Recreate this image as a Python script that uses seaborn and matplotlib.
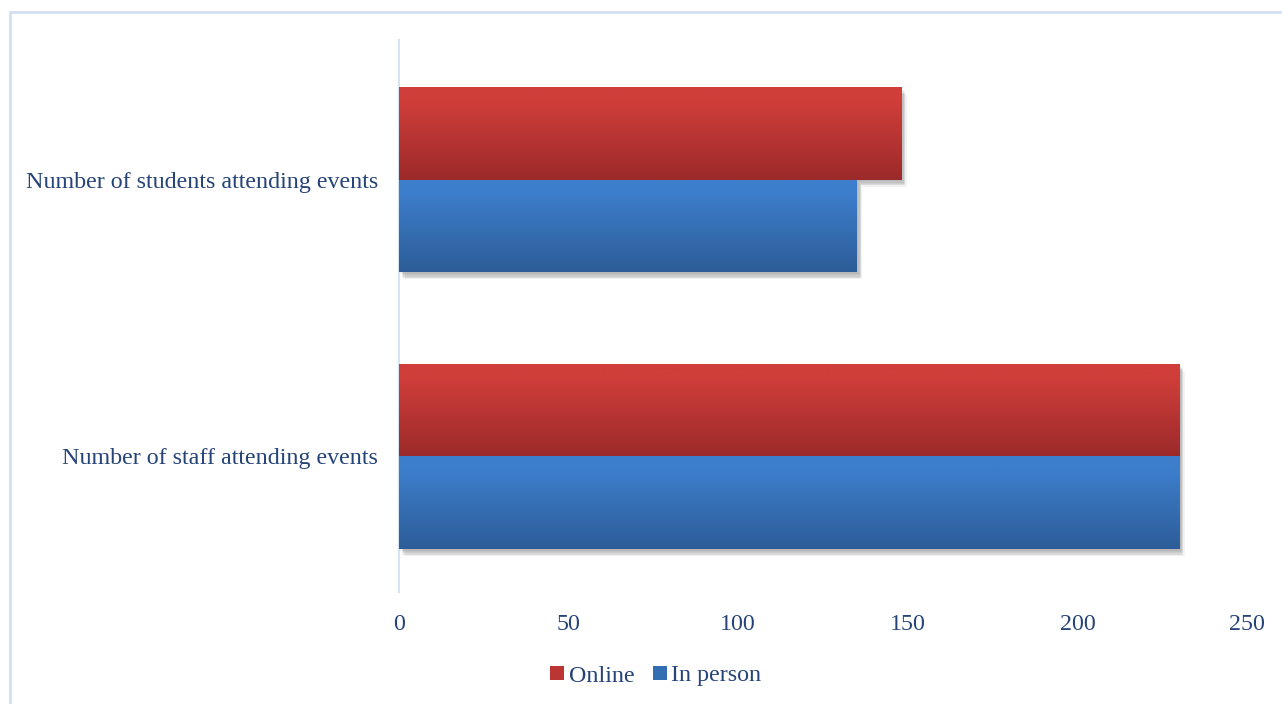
import numpy as np
import pandas as pd
import matplotlib
matplotlib.use("Agg")
import matplotlib.pyplot as plt
import matplotlib.patheffects as pe
from matplotlib.patches import Patch, Rectangle
from matplotlib.colors import LinearSegmentedColormap
import seaborn as sns

categories = ["Number of students attending events", "Number of staff attending events"]
series = ["Online", "In person"]
online = [148, 230]
in_person = [135, 230]
xticks = [0, 50, 100, 150, 200, 250]

df = pd.DataFrame({
    "category": categories * 2,
    "series": [series[0]] * 2 + [series[1]] * 2,
    "value": online + in_person,
})

sns.set_theme(style="white")
plt.rcParams["font.family"] = ["Liberation Serif", "DejaVu Serif"]
text_color = "#264478"
fs = 17.3

fig = plt.figure(figsize=(12.82, 7.04), dpi=100)
W, H = 1282, 704
ax = fig.add_axes([399 / W, 1 - 592 / H, (1247 - 399) / W, (592 - 40) / H])

grad = {
    "Online": ("#D03E3A", "#9C2A2A"),
    "In person": ("#3D7ECC", "#2C5D98"),
}
mid = {"Online": "#BA3533", "In person": "#356DB2"}

sns.barplot(data=df, y="category", x="value", hue="series", order=categories,
            hue_order=series, orient="h", width=0.67, ax=ax,
            palette=[mid[s] for s in series], saturation=1, legend=False)

shadows = [pe.SimplePatchShadow(offset=(dx, dy), shadow_rgbFace="#000000", alpha=0.05)
           for dx, dy in [(1, -1), (2, -2), (3, -3), (3, -4), (4, -5), (2, -4)]]

for cont, s in zip(ax.containers, series):
    cmap = LinearSegmentedColormap.from_list(
        s, [(0.0, grad[s][0]), (0.15, grad[s][0]), (1.0, grad[s][1])])
    g = np.linspace(0, 1, 256).reshape(-1, 1)
    for p in cont.patches:
        x0, y0, w, h = p.get_x(), p.get_y(), p.get_width(), p.get_height()
        p.set_edgecolor("none")
        p.set_path_effects(shadows + [pe.Normal()])
        im = ax.imshow(g, cmap=cmap, extent=(x0, x0 + w, y0 + h, y0), origin="upper",
                       aspect="auto", zorder=3, interpolation="bilinear")
        im.set_clip_path(p)

ax.set_xlim(0, 250)
ax.set_ylim(1.49, -0.505)
ax.set_xticks(xticks)
ax.set_xticklabels([str(t) for t in xticks])
ax.set_xlabel("")
ax.set_ylabel("")
for sp in ["top", "right", "bottom"]:
    ax.spines[sp].set_visible(False)
ax.spines["left"].set_color("#D6E3F3")
ax.spines["left"].set_linewidth(1.5)
ax.tick_params(axis="x", length=0, pad=16, labelsize=fs, labelcolor=text_color)
ax.tick_params(axis="y", length=0, pad=15, labelsize=fs, labelcolor=text_color)
ax.grid(False)

handles = [Patch(facecolor=mid[s], edgecolor="none") for s in series]
fig.legend(handles, series, loc="center", bbox_to_anchor=(656 / W, 1 - 676 / H),
           ncol=2, frameon=False, fontsize=fs, labelcolor=text_color,
           handlelength=0.55, handleheight=0.55, handletextpad=0.2, columnspacing=0.8)

fig.patches.append(Rectangle((9.5 / W, -0.05), 1.1, 1 - 12 / H + 0.05, transform=fig.transFigure,
                             fill=False, edgecolor="#D3E0F2", linewidth=2))

fig.savefig("out.png", dpi=100)
